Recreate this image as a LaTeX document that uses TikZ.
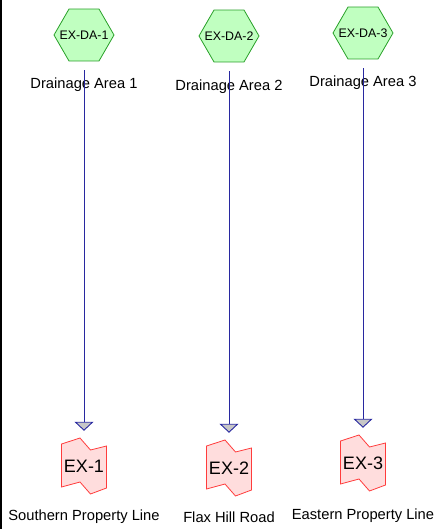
\documentclass[tikz,border=0pt]{standalone}
\usepackage{fontspec}
\setmainfont{Liberation Sans}
\usetikzlibrary{shapes.geometric,arrows.meta}
\definecolor{hexfill}{RGB}{192,255,192}
\definecolor{hexline}{RGB}{40,160,40}
\definecolor{outfill}{RGB}{255,221,221}
\definecolor{outline}{RGB}{255,60,60}
\definecolor{flowblue}{RGB}{40,40,160}
\tikzset{
  area/.style = {regular polygon, regular polygon sides = 6, minimum size = 60pt,
    inner sep = 0pt, draw = hexline, fill = hexfill, line width = 0.8pt,
    label = {[font = \fontsize{12.4}{14}\selectfont, inner sep = 0pt]center:#1}},
  areaname/.style = {font = \fontsize{14.7}{17}\selectfont, inner sep = 0pt},
  outlet/.style = {minimum width = 45pt, minimum height = 70pt, inner sep = 0pt,
    font = \fontsize{18}{21}\selectfont},
  outletborder/.style = {draw = outline, fill = outfill, line width = 0.8pt, line join = miter},
  flow/.style = {draw = flowblue, line width = 0.9pt, shorten <= 9pt,
    -{Triangle[length = 9pt, width = 19pt, fill = black!22]}}
}
\begin{document}
\begin{tikzpicture}[x = 1pt, y = -1pt]
\useasboundingbox (0,0) rectangle (438,529);
\fill (0,0) rectangle (2,529);
\foreach \i/\x/\yh/\yl/\yo/\yn/\place in {1/84/35/85/466/517/Southern Property Line,
  2/229/36/87/468/517/Flax Hill Road, 3/363/33/83/463/516/Eastern Property Line}
{
  \node[area = {EX-DA-\i}] (da\i) at (\x,\yh) {};
  \node[areaname] (lab\i) at (\x,\yl) {Drainage Area \i};
  % outlet outline with zigzag top and bottom
  \begin{scope}[shift = {(\x,\yo)}]
    \path[outletborder] (-22.5,-22) -- (-4,-28) -- (6.5,-16) -- (22.5,-20)
      -- (22.5,22) -- (6.5,28) -- (-4,16) -- (-22.5,21) -- cycle;
  \end{scope}
  \node[outlet] (ex\i) at (\x,\yo) {EX-\i};
  \node[areaname] (place\i) at (\x,\yn) {\place};
  \draw[flow] (da\i) -- (ex\i);
}
\end{tikzpicture}
\end{document}
